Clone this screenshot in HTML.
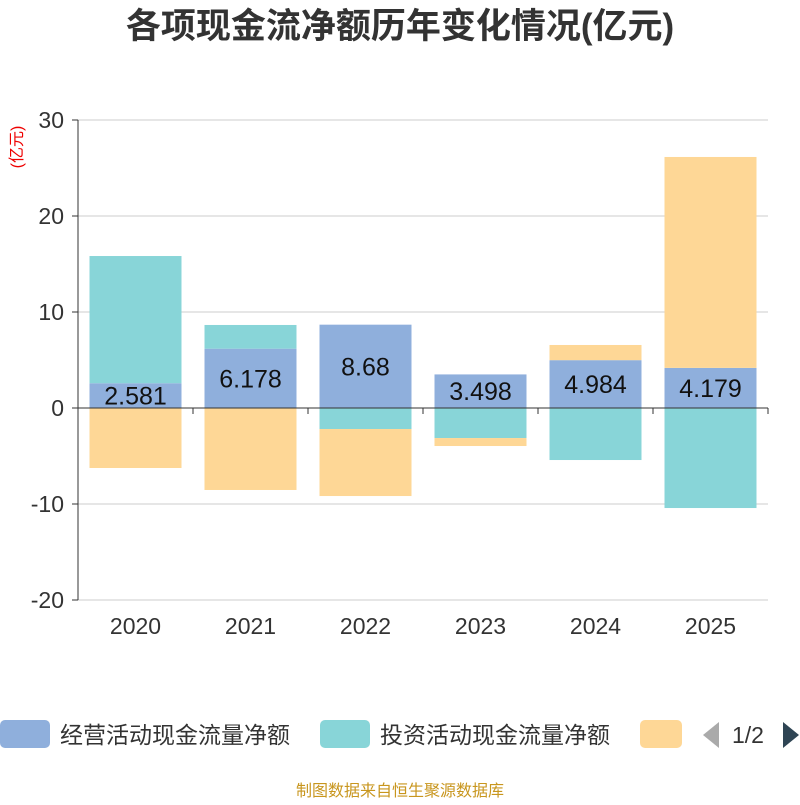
<!DOCTYPE html>
<html><head><meta charset="utf-8"><style>
body{margin:0;background:#fff;font-family:"Liberation Sans","Noto Sans CJK SC",sans-serif}
</style></head><body>
<svg id="c" width="800" height="800" xmlns="http://www.w3.org/2000/svg">
<text x="400" y="38" text-anchor="middle" font-size="35" font-weight="bold" fill="#333" font-family="Liberation Sans,Noto Sans CJK SC,sans-serif">各项现金流净额历年变化情况(亿元)</text>
<text transform="translate(22,147) rotate(-90)" text-anchor="middle" font-size="16" fill="#e00" font-family="Liberation Sans,Noto Sans CJK SC,sans-serif">(亿元)</text>
<g id="grid"></g><g id="bars"></g><g id="axes"></g>
<g font-family="Liberation Sans,Noto Sans CJK SC,sans-serif" font-size="23" fill="#333">
<rect x="0" y="720" width="50" height="28" rx="5" fill="#8fafdc"/>
<text x="60" y="743">经营活动现金流量净额</text>
<rect x="320" y="720" width="50" height="28" rx="5" fill="#88d5d8"/>
<text x="380" y="743">投资活动现金流量净额</text>
<rect x="640" y="720" width="42" height="28" rx="5" fill="#fed796"/>
<path d="M719 722 L703 735 L719 748 Z" fill="#aaa"/>
<text x="732" y="743">1/2</text>
<path d="M783 722 L799 735 L783 748 Z" fill="#2f4554"/>
</g>
<text x="400" y="796" text-anchor="middle" font-size="16" fill="#c8961e" font-family="Liberation Sans,Noto Sans CJK SC,sans-serif">制图数据来自恒生聚源数据库</text>
</svg>
<script>
const categories=["2020","2021","2022","2023","2024","2025"];
const operating=[2.581,6.178,8.68,3.498,4.984,4.179];
const investing=[13.25,2.47,-2.19,-3.13,-5.42,-10.42];
const financing=[-6.25,-8.54,-6.98,-0.83,1.58,21.97];
const yTicks=[30,20,10,0,-10,-20];
const NS="http://www.w3.org/2000/svg";
const x0=78,x1=768,yTop=120,yBot=600,yMax=30,yMin=-20;
const y=v=>yTop+(yMax-v)/(yMax-yMin)*(yBot-yTop);
const band=(x1-x0)/categories.length;
const xc=i=>x0+band*(i+0.5);
function mk(tag,attrs,parent){const e=document.createElementNS(NS,tag);for(const k in attrs)e.setAttribute(k,attrs[k]);parent.appendChild(e);return e;}
const grid=document.getElementById('grid'),bars=document.getElementById('bars'),axes=document.getElementById('axes');
yTicks.forEach(t=>{
 const l=mk('line',{x1:x0,x2:x1,y1:y(t),y2:y(t),stroke:'#ccc','stroke-width':1},grid);
 
 
 const tk=mk('line',{x1:x0-6,x2:x0,y1:y(t),y2:y(t),stroke:'#333'},axes);
 
 
 const tx=mk('text',{x:x0-14,y:y(t)+8,'text-anchor':'end','font-size':23,fill:'#333','font-family':'Liberation Sans,sans-serif'},axes);
 tx.textContent=t;
 
 
});
const series=[[operating,'#8fafdc','operating'],[investing,'#88d5d8','investing'],[financing,'#fed796','financing']];
const bw=band*0.8;
categories.forEach((c,i)=>{
 let pos=0,neg=0;
 series.forEach(([arr,col,nm])=>{
  const v=arr[i];let a,b;
  if(v>=0){a=pos;b=pos+v;pos=b;}else{a=neg;b=neg+v;neg=b;}
  const r=mk('rect',{x:xc(i)-bw/2,y:Math.min(y(a),y(b)),width:bw,height:Math.abs(y(a)-y(b)),fill:col},bars);
  
  
 });
 const lb=mk('text',{x:xc(i),y:y(operating[i]/2)+9,'text-anchor':'middle','font-size':25,fill:'#111','font-family':'Liberation Sans,sans-serif'},bars);
 lb.textContent=operating[i];
 
 
 const xt=mk('text',{x:xc(i),y:634,'text-anchor':'middle','font-size':23,fill:'#333','font-family':'Liberation Sans,sans-serif'},axes);
 xt.textContent=c;
 
 
 const tk=mk('line',{x1:x0+band*(i+1),x2:x0+band*(i+1),y1:y(0),y2:y(0)+6,stroke:'#333'},axes);
 
 
});
const ya=mk('line',{x1:x0,x2:x0,y1:yTop,y2:yBot,stroke:'#333'},axes);


const xa=mk('line',{x1:x0,x2:x1,y1:y(0),y2:y(0),stroke:'#333'},axes);


</script>
</body></html>
